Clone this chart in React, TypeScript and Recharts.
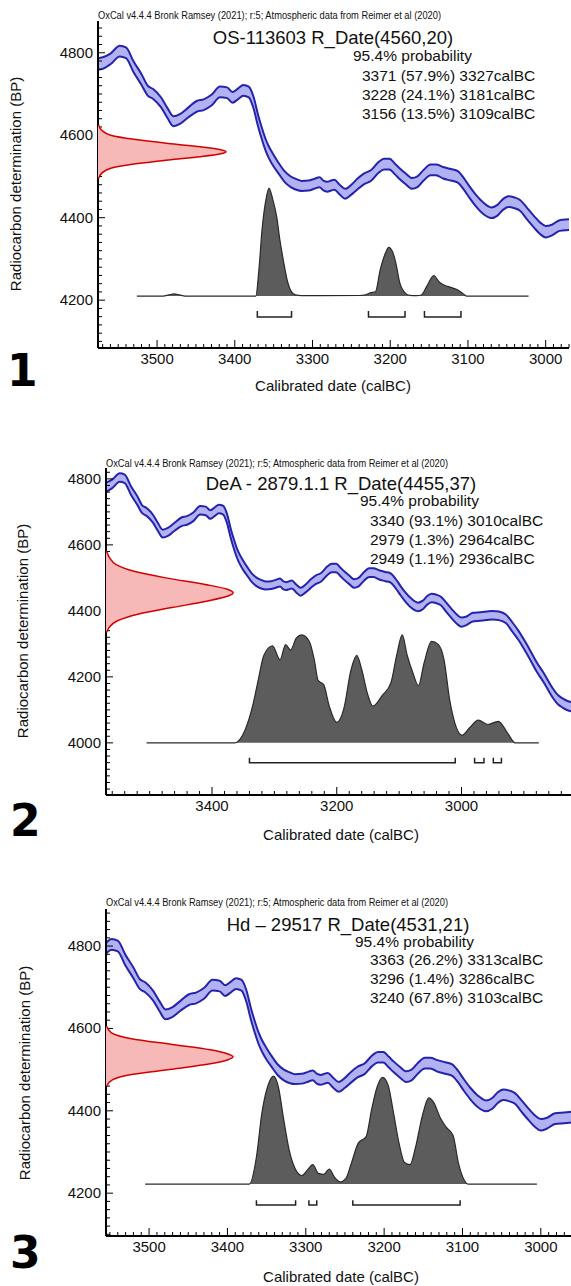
import React from 'react';
import { ComposedChart, Area, Line, XAxis, YAxis } from 'recharts';

const SANS = '"Liberation Sans", Arial, Helvetica, sans-serif';
const NARROW = '"Liberation Sans Narrow", "Liberation Sans", Arial, sans-serif';

const oxcalHeader = 'OxCal v4.4.4 Bronk Ramsey (2021); r:5; Atmospheric data from Reimer et al (2020)';
const xAxisTitle = 'Calibrated date (calBC)';
const yAxisTitle = 'Radiocarbon determination (BP)';
const probHeader = '95.4% probability';

// IntCal20 calibration curve
const calYears = [3590, 3580, 3570, 3560, 3548, 3540, 3530, 3520, 3512, 3505, 3495, 3487,
  3479, 3470, 3460, 3449, 3440, 3430, 3419, 3410, 3403, 3396, 3389, 3382,
  3376, 3370, 3365, 3360, 3356, 3350, 3344, 3336, 3328, 3320, 3314, 3305,
  3298, 3291, 3286, 3281, 3276, 3272, 3265, 3258, 3250, 3242, 3234, 3225,
  3215, 3208, 3201, 3194, 3188, 3180, 3172, 3165, 3157, 3148, 3141, 3132,
  3122, 3113, 3106, 3098, 3090, 3081, 3070, 3062, 3055, 3048, 3040, 3033,
  3024, 3015, 3007, 3000, 2992, 2982, 2970, 2960, 2950, 2940, 2929, 2918,
  2908, 2899, 2891, 2880, 2868, 2855, 2845, 2838, 2830, 2822, 2810, 2800];
const calBP = [4770, 4772, 4775, 4785, 4804, 4800, 4765, 4735, 4708, 4700, 4680, 4655,
  4634, 4640, 4655, 4670, 4674, 4685, 4705, 4703, 4692, 4700, 4709, 4705,
  4680, 4635, 4603, 4575, 4558, 4538, 4521, 4500, 4487, 4480, 4477, 4478,
  4482, 4486, 4478, 4475, 4478, 4480, 4468, 4458, 4468, 4482, 4494, 4502,
  4522, 4530, 4530, 4518, 4507, 4494, 4483, 4487, 4503, 4516, 4516, 4509,
  4504, 4499, 4484, 4462, 4442, 4424, 4412, 4418, 4432, 4439, 4436, 4430,
  4410, 4390, 4374, 4366, 4370, 4381, 4383, 4385, 4387, 4385, 4376, 4350,
  4324, 4296, 4270, 4232, 4197, 4155, 4130, 4121, 4113, 4109, 4106, 4104];
const calErr = [14, 14, 14, 13, 13, 13, 13, 13, 12, 12, 12, 12,
  12, 12, 12, 13, 13, 13, 13, 13, 13, 13, 13, 13,
  14, 14, 14, 14, 14, 14, 13, 13, 13, 13, 12, 12,
  12, 12, 12, 12, 12, 12, 12, 12, 12, 13, 13, 13,
  13, 13, 13, 13, 13, 13, 13, 13, 13, 13, 13, 14,
  14, 14, 14, 14, 14, 14, 13, 13, 13, 13, 13, 13,
  14, 14, 14, 14, 13, 13, 13, 13, 13, 13, 13, 14,
  14, 14, 14, 14, 14, 14, 14, 14, 14, 14, 14, 14];

// Panel 1
const p1Name = 'OS-113603 R_Date(4560,20)';
const p1RangeText = ['3371 (57.9%) 3327calBC', '3228 (24.1%) 3181calBC', '3156 (13.5%) 3109calBC'];
const p1RangeStart = [3371, 3228, 3156];
const p1RangeEnd = [3327, 3181, 3109];
const p1RedBP = [4625, 4612, 4600, 4590, 4580, 4572, 4565, 4560, 4555, 4548, 4540, 4530, 4520, 4508, 4495];
const p1RedProb = [0.005, 0.03, 0.1, 0.28, 0.55, 0.8, 0.96, 1.0, 0.96, 0.8, 0.55, 0.28, 0.1, 0.03, 0.005];
const p1DistYears = [3526, 3492, 3485, 3478, 3471, 3464, 3380, 3373, 3369, 3365, 3360, 3356, 3351, 3346, 3342,
  3337, 3332, 3328, 3322, 3314, 3290, 3240, 3232, 3226, 3219, 3213, 3206, 3202, 3197, 3192, 3188, 3181,
  3175, 3166, 3160, 3153, 3144, 3137, 3130, 3122, 3113, 3106, 3102, 3022];
const p1DistProb = [0, 0, 0.01, 0.02, 0.01, 0, 0, 0, 0.24, 0.61, 0.89, 1.0, 0.89, 0.73, 0.52,
  0.31, 0.13, 0.05, 0.01, 0.004, 0.003, 0.005, 0.01, 0.03, 0.04, 0.24, 0.4, 0.45, 0.41, 0.28, 0.13, 0.03,
  0.006, 0.004, 0.01, 0.09, 0.19, 0.13, 0.1, 0.08, 0.055, 0.02, 0, 0];
const p1XLabels = [3500, 3400, 3300, 3200, 3100, 3000];
const p1YLabels = [4200, 4400, 4600, 4800];

// Panel 2
const p2Name = 'DeA - 2879.1.1 R_Date(4455,37)';
const p2RangeText = ['3340 (93.1%) 3010calBC', '2979 (1.3%) 2964calBC', '2949 (1.1%) 2936calBC'];
const p2RangeStart = [3340, 2979, 2949];
const p2RangeEnd = [3010, 2964, 2936];
const p2RedBP = [4580, 4560, 4540, 4520, 4500, 4480, 4465, 4455, 4445, 4430, 4410, 4390, 4370, 4350, 4335];
const p2RedProb = [0.005, 0.03, 0.08, 0.22, 0.47, 0.78, 0.96, 1.0, 0.96, 0.8, 0.52, 0.25, 0.09, 0.025, 0.005];
const p2DistYears = [3505, 3364, 3347, 3335, 3326, 3317, 3303, 3291, 3282, 3274, 3265, 3256, 3244, 3236, 3230,
  3221, 3212, 3200, 3189, 3177, 3168, 3160, 3151, 3142, 3127, 3113, 3104, 3095, 3087, 3078, 3069, 3060,
  3048, 3037, 3028, 3019, 3011, 2999, 2987, 2973, 2958, 2941, 2926, 2914, 2876];
const p2DistProb = [0, 0, 0.12, 0.34, 0.58, 0.81, 0.9, 0.77, 0.91, 0.86, 0.97, 1.0, 0.94, 0.77, 0.58,
  0.54, 0.34, 0.19, 0.31, 0.68, 0.81, 0.68, 0.46, 0.34, 0.44, 0.56, 0.81, 1.0, 0.81, 0.65, 0.53, 0.74,
  0.94, 0.91, 0.77, 0.4, 0.19, 0.07, 0.14, 0.21, 0.17, 0.2, 0.09, 0, 0];
const p2XLabels = [3400, 3200, 3000];
const p2YLabels = [4000, 4200, 4400, 4600, 4800];

// Panel 3
const p3Name = 'Hd \u2013 29517 R_Date(4531,21)';
const p3RangeText = ['3363 (26.2%) 3313calBC', '3296 (1.4%) 3286calBC', '3240 (67.8%) 3103calBC'];
const p3RangeStart = [3363, 3296, 3240];
const p3RangeEnd = [3313, 3286, 3103];
const p3RedBP = [4605, 4590, 4575, 4561, 4548, 4538, 4531, 4524, 4514, 4501, 4488, 4475, 4460];
const p3RedProb = [0.005, 0.04, 0.2, 0.52, 0.82, 0.96, 1.0, 0.96, 0.82, 0.52, 0.2, 0.05, 0.005];
const p3DistYears = [3505, 3372, 3363, 3356, 3347, 3341, 3335, 3328, 3321, 3314, 3305, 3298, 3291, 3284,
  3277, 3270, 3263, 3256, 3249, 3242, 3233, 3223, 3216, 3209, 3202, 3195, 3188, 3181, 3174, 3167, 3160,
  3151, 3143, 3137, 3128, 3121, 3112, 3105, 3098, 3093, 3005];
const p3DistProb = [0, 0, 0.25, 0.66, 0.94, 1.0, 0.9, 0.59, 0.31, 0.15, 0.08, 0.13, 0.18, 0.1,
  0.09, 0.14, 0.06, 0.02, 0.05, 0.19, 0.38, 0.44, 0.69, 0.9, 0.99, 0.92, 0.66, 0.38, 0.2, 0.18, 0.34,
  0.64, 0.8, 0.76, 0.61, 0.53, 0.45, 0.19, 0.04, 0, 0];
const p3XLabels = [3500, 3400, 3300, 3200, 3100, 3000];
const p3YLabels = [4200, 4400, 4600, 4800];

type Pos = {
  headerX: number; headerY: number; headerW: number;
  titleX: number; titleY: number; probX: number; probY: number;
  rangeX: number; rangeY: number; yLabX: number; yLabY: number;
  xLabX: number; xLabY: number; numX: number; numY: number;
};

type PanelSpec = {
  top: number; width: number; height: number;
  margin: { top: number; right: number; bottom: number; left: number };
  yAxisWidth: number; xAxisHeight: number;
  xDomain: [number, number]; yDomain: [number, number];
  xMajor: number[]; xMinorStep: number; yMajor: number[]; yMinorStep: number;
  rightBorder: boolean;
  distBase: number; distPeak: number; bracketBP: number; bracketTick: number; redMax: number;
  name: string; rangeText: string[]; rangeStart: number[]; rangeEnd: number[];
  redBP: number[]; redProb: number[]; distYears: number[]; distProb: number[];
  label: string; pos: Pos;
};

const panels: PanelSpec[] = [
  {
    top: 0, width: 571, height: 400, margin: { top: 21, right: 2, bottom: 22, left: 0 },
    yAxisWidth: 98, xAxisHeight: 30, xDomain: [2970, 3576], yDomain: [4084, 4877],
    xMajor: p1XLabels, xMinorStep: 10, yMajor: p1YLabels, yMinorStep: 20, rightBorder: true,
    distBase: 4210, distPeak: 262, bracketBP: 4159, bracketTick: 15, redMax: 3.68,
    name: p1Name, rangeText: p1RangeText, rangeStart: p1RangeStart, rangeEnd: p1RangeEnd,
    redBP: p1RedBP, redProb: p1RedProb, distYears: p1DistYears, distProb: p1DistProb, label: '1',
    pos: { headerX: 98, headerY: 19, headerW: 343, titleX: 333, titleY: 44, probX: 353, probY: 61,
      rangeX: 362, rangeY: 80.5, yLabX: 15, yLabY: 184, xLabX: 333, xLabY: 391, numX: 7, numY: 386 },
  },
  {
    top: 440, width: 590, height: 410, margin: { top: 28, right: 10, bottom: 25, left: 0 },
    yAxisWidth: 106, xAxisHeight: 30, xDomain: [2810, 3570], yDomain: [3842, 4833],
    xMajor: p2XLabels, xMinorStep: 20, yMajor: p2YLabels, yMinorStep: 20, rightBorder: false,
    distBase: 4000, distPeak: 327, bracketBP: 3940, bracketTick: 15, redMax: 3.73,
    name: p2Name, rangeText: p2RangeText, rangeStart: p2RangeStart, rangeEnd: p2RangeEnd,
    redBP: p2RedBP, redProb: p2RedProb, distYears: p2DistYears, distProb: p2DistProb, label: '2',
    pos: { headerX: 106, headerY: 466.5, headerW: 342, titleX: 341, titleY: 489.5, probX: 360, probY: 506,
      rangeX: 370, rangeY: 525.5, yLabX: 22, yLabY: 631, xLabX: 341, xLabY: 840, numX: 10, numY: 836 },
  },
  {
    top: 880, width: 590, height: 406, margin: { top: 29, right: 10, bottom: 20, left: 0 },
    yAxisWidth: 106, xAxisHeight: 30, xDomain: [2950, 3555], yDomain: [4096, 4890],
    xMajor: p3XLabels, xMinorStep: 10, yMajor: p3YLabels, yMinorStep: 20, rightBorder: false,
    distBase: 4222, distPeak: 262, bracketBP: 4171, bracketTick: 12, redMax: 3.73,
    name: p3Name, rangeText: p3RangeText, rangeStart: p3RangeStart, rangeEnd: p3RangeEnd,
    redBP: p3RedBP, redProb: p3RedProb, distYears: p3DistYears, distProb: p3DistProb, label: '3',
    pos: { headerX: 106, headerY: 906, headerW: 342, titleX: 348, titleY: 931, probX: 355, probY: 947,
      rangeX: 370, rangeY: 964.5, yLabX: 24, yLabY: 1073, xLabX: 341, xLabY: 1282, numX: 10, numY: 1268 },
  },
];

function stepTicks(lo: number, hi: number, step: number): number[] {
  const out: number[] = [];
  for (let v = Math.ceil(lo / step) * step; v <= hi; v += step) out.push(v);
  return out;
}

const XTick = (props: any) => {
  const { x, y, payload, majors } = props;
  const major = majors.includes(payload.value);
  return (
    <g>
      <line x1={x} x2={x} y1={y} y2={y - (major ? 8 : 4)} stroke="#000" strokeWidth={1} />
      {major && (
        <text x={x} y={y + 16} textAnchor="middle" fontSize={15} fontFamily={SANS} fill="#111">
          {payload.value}
        </text>
      )}
    </g>
  );
};

const YTick = (props: any) => {
  const { x, y, payload, majors } = props;
  const major = majors.includes(payload.value);
  return (
    <g>
      <line x1={x} x2={x + (major ? 7 : 4)} y1={y} y2={y} stroke="#000" strokeWidth={1} />
      {major && (
        <text x={x - 5} y={y + 5} textAnchor="end" fontSize={15} fontFamily={SANS} fill="#111">
          {payload.value}
        </text>
      )}
    </g>
  );
};

function Panel({ s }: { s: PanelSpec }) {
  const calRows = calYears.map((year, i) => ({ year, band: [calBP[i] - calErr[i], calBP[i] + calErr[i]] }));
  const distRows = s.distYears.map((year, i) => ({ year, p: s.distBase + s.distProb[i] * s.distPeak }));
  const redRows = s.redBP.map((bp, i) => ({ bp, d: s.redProb[i] }));
  const xTicks = stepTicks(s.xDomain[0], s.xDomain[1], s.xMinorStep);
  const yTicks = stepTicks(s.yDomain[0], s.yDomain[1], s.yMinorStep);
  const brackets = s.rangeStart.map((a, i) => [
    { year: a, y: s.bracketBP + s.bracketTick },
    { year: a, y: s.bracketBP },
    { year: s.rangeEnd[i], y: s.bracketBP },
    { year: s.rangeEnd[i], y: s.bracketBP + s.bracketTick },
  ]);
  const m = s.margin;
  return (
    <div style={{ position: 'absolute', left: 0, top: s.top, width: s.width, height: s.height }}>
      <div style={{ position: 'absolute', left: 0, top: 0 }}>
        <ComposedChart width={s.width} height={s.height} margin={m}>
          <XAxis type="number" dataKey="year" domain={s.xDomain} reversed allowDataOverflow
            ticks={xTicks} interval={0} tickLine={false} tickSize={0} tickMargin={0}
            tick={(p: any) => <XTick {...p} majors={s.xMajor} />}
            height={s.xAxisHeight} axisLine={{ stroke: '#000', strokeWidth: 2 }} />
          <XAxis xAxisId="top" orientation="top" type="number" dataKey="year" domain={s.xDomain} reversed
            allowDataOverflow height={0} tick={false} tickLine={false}
            axisLine={{ stroke: '#000', strokeWidth: 1.5 }} />
          <YAxis type="number" domain={s.yDomain} allowDataOverflow ticks={yTicks} interval={0}
            tickLine={false} tickSize={0} tickMargin={0}
            tick={(p: any) => <YTick {...p} majors={s.yMajor} />}
            width={s.yAxisWidth} axisLine={{ stroke: '#000', strokeWidth: 2 }} />
          {s.rightBorder && (
            <YAxis yAxisId="right" orientation="right" type="number" domain={s.yDomain} allowDataOverflow
              width={0} tick={false} tickLine={false} axisLine={{ stroke: '#000', strokeWidth: 1.5 }} />
          )}
          <Area data={calRows} dataKey="band" type="monotone" stroke="#2323ae" strokeWidth={2}
            fill="#b2b2f3" fillOpacity={1} isAnimationActive={false} dot={false} activeDot={false} />
          <Area data={distRows} dataKey="p" baseValue={s.distBase} type="monotone" stroke="#2a2a2a"
            strokeWidth={1.2} fill="#5c5c5c" fillOpacity={1} isAnimationActive={false} dot={false}
            activeDot={false} />
          {brackets.map((b, i) => (
            <Line key={i} data={b} dataKey="y" type="linear" stroke="#222" strokeWidth={1.5}
              dot={false} activeDot={false} isAnimationActive={false} />
          ))}
        </ComposedChart>
      </div>
      <div style={{ position: 'absolute', left: 0, top: 0 }}>
        <ComposedChart layout="vertical" width={s.width} height={s.height} data={redRows}
          margin={{ top: m.top, right: m.right, bottom: m.bottom + s.xAxisHeight, left: m.left + s.yAxisWidth }}>
          <XAxis type="number" domain={[0, s.redMax]} hide allowDataOverflow />
          <YAxis type="number" dataKey="bp" domain={s.yDomain} hide reversed allowDataOverflow />
          <Area dataKey="d" type="monotone" baseValue={0} stroke="#d40000" strokeWidth={1.5}
            fill="#f7b8b8" fillOpacity={1} isAnimationActive={false} dot={false} activeDot={false} />
        </ComposedChart>
      </div>
    </div>
  );
}

function Texts({ s }: { s: PanelSpec }) {
  const t = s.pos;
  return (
    <g fill="#111" fontFamily={SANS}>
      <text x={t.headerX} y={t.headerY} fontSize={10} fontFamily={NARROW} textLength={t.headerW}
        lengthAdjust="spacingAndGlyphs">{oxcalHeader}</text>
      <text x={t.titleX} y={t.titleY} textAnchor="middle" fontSize={18.5}>{s.name}</text>
      <text x={t.probX} y={t.probY} fontSize={15.5}>{probHeader}</text>
      {s.rangeText.map((r, i) => (
        <text key={i} x={t.rangeX} y={t.rangeY + i * 19} fontSize={15.5}>{r}</text>
      ))}
      <text transform={`translate(${t.yLabX},${t.yLabY}) rotate(-90)`} textAnchor="middle"
        dominantBaseline="central" fontSize={15}>{yAxisTitle}</text>
      <text x={t.xLabX} y={t.xLabY} textAnchor="middle" fontSize={15}>{xAxisTitle}</text>
      <text x={t.numX} y={t.numY} fontSize={44} fontWeight="bold" fontFamily='"DejaVu Sans", sans-serif'
        fill="#000">{s.label}</text>
    </g>
  );
}

export default function App() {
  return (
    <div style={{ position: 'absolute', left: 0, top: 0, width: 571, height: 1286, overflow: 'hidden', background: '#fff' }}>
      {panels.map((s, i) => <Panel key={i} s={s} />)}
      <svg width={571} height={1286} style={{ position: 'absolute', left: 0, top: 0, pointerEvents: 'none' }}>
        {panels.map((s, i) => <Texts key={i} s={s} />)}
      </svg>
    </div>
  );
}
